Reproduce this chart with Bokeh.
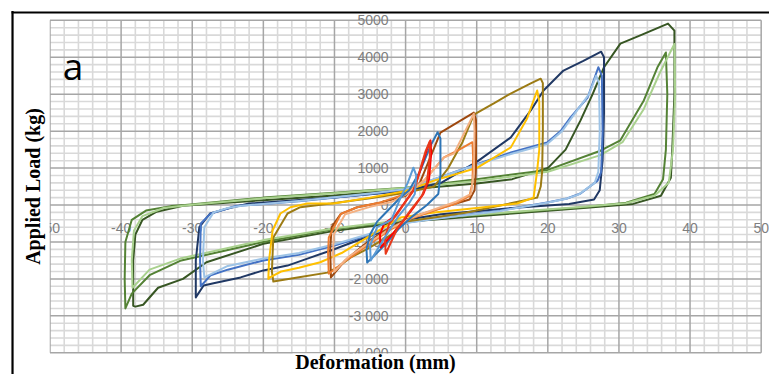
from bokeh.plotting import figure
from bokeh.models import Range1d
from bokeh.core.properties import value
from bokeh.embed import file_html
from bokeh.resources import INLINE

# ---------------- data ----------------
x_ticks = [-50, -40, -30, -20, -10, 0, 10, 20, 30, 40, 50]
x_tick_labels = ["-50", "-40", "-30", "-20", "-10", "0", "10", "20", "30", "40", "50"]
y_ticks = [5000, 4000, 3000, 2000, 1000, 0, -1000, -2000, -3000, -4000]
y_tick_labels = ["5000", "4000", "3000", "2000", "1000", "0", "-1 000", "-2 000", "-3 000", "-4 000"]

dg_x = [-31.3, -20, -10, 0, 10, 15, 20, 22.5, 24.6, 26.3, 27.9, 30.2, 33, 36.9, 37.8, 37.8, 37.5, 37.3, 35.9, 32, 25, 15, 0, -10, -20, -28, -31.3, -34.8, -36.9, -38.0, -38.3, -38.3, -38.0, -37.0, -35.0, -31.3]
dg_y = [-20, 130, 260, 420, 580, 700, 1000, 1500, 2290, 3000, 3730, 4370, 4590, 4910, 4720, 3000, 1500, 740, 250, 30, -80, -230, -450, -700, -1050, -1550, -2000, -2240, -2700, -2750, -2730, -1500, -800, -400, -180, -20]

gr_x = [-31, -20, -10, 0, 10, 20, 27.4, 30.2, 33.5, 35.4, 36.6, 36.8, 36.6, 36.2, 35, 31, 25, 15, 0, -10, -20, -31.7, -36, -38.5, -39.4, -39.5, -39.4, -38.5, -36.5, -33, -31]
gr_y = [0, 200, 330, 470, 700, 950, 1470, 1750, 2830, 3720, 4130, 3000, 1500, 700, 300, 60, -60, -200, -420, -650, -1000, -1510, -1900, -2400, -2800, -2000, -1000, -400, -150, -30, 0]

lg_x = [-30, -20, -10, 0, 10, 20, 27.4, 30.5, 33.5, 35.8, 37.8, 37.9, 37.6, 37.0, 35, 31, 25, 15, 0, -10, -20, -31.7, -36, -38.4, -38.5, -38.2, -37, -34, -30]
lg_y = [10, 180, 320, 460, 650, 900, 1350, 1700, 2600, 3600, 4360, 3000, 1500, 600, 250, 50, -50, -190, -400, -630, -950, -1450, -1750, -2240, -1500, -700, -300, -80, 10]

db_x = [-22, -10, 0, 5, 10.1, 14.8, 17.6, 19.4, 22.2, 25, 27.5, 27.9, 27.9, 27.7, 27.3, 26.5, 23, 15, 5, 0, -3.5, -6.8, -10.5, -13.8, -16.6, -20, -23.2, -27, -28.4, -29.5, -29.5, -29, -27.5, -25, -22]
db_y = [40, 200, 380, 600, 1180, 1830, 2560, 3100, 3640, 3900, 4150, 4000, 2500, 1200, 400, 150, 30, -80, -250, -400, -740, -960, -1230, -1450, -1640, -1770, -1960, -2120, -2180, -2500, -1500, -600, -230, -95, 40]

bl_x = [-24, -15, -5, 0, 8.6, 14.8, 19.9, 21.8, 23.2, 25.6, 27.1, 27.6, 27.7, 27.5, 27, 24.6, 22.7, 19.9, 13.3, 4, 0, -5, -10, -15, -20, -25, -27.4, -28.8, -28.9, -28.8, -27.4, -25, -24]
bl_y = [-30, 100, 300, 420, 1010, 1420, 1690, 2000, 2370, 2910, 3730, 3500, 2000, 900, 660, 310, 175, 70, -150, -370, -480, -800, -1100, -1350, -1500, -1750, -1900, -2200, -1500, -500, -230, -95, -30]

lb_x = [-23, -15, -5, 0, 8.6, 14.8, 19.9, 22, 23.5, 25.8, 26.8, 27.2, 27.3, 27.1, 26.6, 24.3, 22.4, 19.9, 13.3, 4, 0, -5, -10, -15, -20, -25, -28.3, -28.5, -28.3, -27, -25, -23]
lb_y = [-20, 110, 310, 430, 1000, 1380, 1650, 2000, 2400, 3000, 3500, 3300, 2000, 900, 600, 280, 160, 60, -160, -380, -490, -780, -1060, -1300, -1450, -1650, -1960, -1500, -600, -200, -80, -20]

ol_x = [-10.5, -5, 0, 4, 6, 8, 9.6, 12.4, 14.7, 17.6, 19, 19.3, 19.3, 19.2, 19, 18.5, 13.3, 8.6, 4, -0.7, -1.7, -5.3, -7.7, -9.6, -11, -15.2, -18.6, -18.8, -18.6, -16.6, -14.8, -10.5]
ol_y = [40, 180, 330, 500, 1000, 1700, 2450, 2750, 3010, 3290, 3420, 3300, 2000, 900, 500, 200, -15, -200, -340, -470, -770, -1180, -1420, -1690, -1830, -1960, -2070, -1800, -880, -230, -60, 40]

go_x = [-10.1, -5, 0, 4, 10.1, 14.8, 17.1, 18.5, 18.8, 18.8, 18.5, 18, 15.7, 11, 4, -0.7, -3, -6, -9, -12, -15, -17.5, -19, -19.3, -19.2, -18.7, -17.6, -16.2, -13.8, -10.1]
go_y = [40, 200, 380, 660, 1010, 1560, 2350, 3100, 2800, 1500, 930, 200, 40, -60, -200, -340, -600, -950, -1300, -1550, -1700, -1800, -1950, -2000, -1500, -690, -230, -60, 40, 40]

br_x = [-6.8, -3.5, 0, 2, 3.5, 4.9, 9.6, 9.9, 9.9, 9.7, 9, 6, 3, 0, -3, -6, -8.5, -10.5, -10.6, -10.4, -9.1, -6.8]
br_y = [-60, 70, 250, 600, 1300, 1960, 2500, 2300, 1000, 400, 150, -20, -200, -400, -700, -1100, -1500, -1960, -1200, -600, -240, -60]

or_x = [-6.8, -3.5, 0, 2.6, 5.4, 7.3, 9.4, 9.5, 9.4, 9.0, 7, 4, 1, -2, -5, -8, -10.8, -10.9, -10.8, -9.1, -6.8]
or_y = [-60, 70, 300, 660, 1290, 1470, 1700, 1300, 600, 250, 30, -150, -350, -650, -1050, -1450, -1860, -1300, -880, -240, -60]

lo_x = [-5, -2, 0, 2.6, 5.4, 6.8, 9.6, 9.7, 9.6, 9.2, 7, 4, 1, -2, -5, -8, -10, -10.2, -10.1, -8.5, -5]
lo_y = [-50, 80, 280, 660, 1290, 1390, 2470, 2000, 900, 300, 80, -120, -330, -620, -1000, -1400, -1800, -1300, -800, -250, -50]

mb_x = [-3, -1, 0.5, 2, 3.5, 4.5, 4.9, 4.9, 4.6, 3, 1, -1, -3, -5.4, -5.5, -5, -4, -3]
mb_y = [-250, 150, 400, 900, 1600, 1970, 1800, 800, 300, 0, -300, -650, -1100, -1560, -1200, -800, -450, -250]

rd_x = [-1.5, 0, 1.1, 2, 3, 3.5, 3.6, 3.3, 2.5, 1, -1, -3.5, -3.6, -3, -1.5]
rd_y = [-300, 100, 390, 900, 1500, 1750, 1400, 700, 300, -100, -600, -1150, -800, -500, -300]

rd2_x = [-1.2, 0.2, 1.3, 2.1, 2.8, 3.4, 3.4, 3.0, 2.3, 0.8, -1.2, -2.8, -2.9, -2.3, -1.2]
rd2_y = [-250, 150, 450, 1000, 1450, 1720, 1300, 600, 250, -120, -650, -1320, -900, -500, -250]

sb_x = [-2, -0.7, 0.3, 1.1, 1.5, 1.3, 0.5, -1, -3, -4.9, -5, -4, -2]
sb_y = [-400, 200, 600, 1010, 800, 300, 50, -300, -900, -1500, -1100, -600, -400]

loops = [
    (dg_x, dg_y, "#375623"),
    (gr_x, gr_y, "#548235"),
    (lg_x, lg_y, "#A9D18E"),
    (db_x, db_y, "#203864"),
    (bl_x, bl_y, "#4472C4"),
    (lb_x, lb_y, "#9DC3E6"),
    (ol_x, ol_y, "#9C7B14"),
    (go_x, go_y, "#FFC000"),
    (br_x, br_y, "#9E480E"),
    (or_x, or_y, "#ED7D31"),
    (lo_x, lo_y, "#F4B183"),
    (mb_x, mb_y, "#2E75B6"),
    (rd_x, rd_y, "#FF0000"),
    (rd2_x, rd2_y, "#E83A1C"),
    (sb_x, sb_y, "#5B9BD5"),
]

# ---------------- figure ----------------
p = figure(width=769, height=374, output_backend="svg", toolbar_location=None,
           x_axis_location=None, y_axis_location=None,
           x_range=Range1d(-56.96, 51.17), y_range=Range1d(-4588, 5536),
           min_border=0, background_fill_color="white")
p.outline_line_color = None
p.xgrid.visible = False
p.ygrid.visible = False

# minor grid
mx = [v for v in range(-50, 51, 2) if v % 10 != 0]
p.segment(x0=mx, y0=[-4000] * len(mx), x1=mx, y1=[5000] * len(mx), line_color="#d9d9d9", line_width=1.6)
my = [v for v in range(-4000, 5001, 200) if v % 1000 != 0]
p.segment(x0=[-50] * len(my), y0=my, x1=[50] * len(my), y1=my, line_color="#d9d9d9", line_width=1.6)
# major grid
Mx = list(range(-50, 51, 10))
p.segment(x0=Mx, y0=[-4000] * len(Mx), x1=Mx, y1=[5000] * len(Mx), line_color="#a6a6a6", line_width=1.5)
My = list(range(-4000, 5001, 1000))
p.segment(x0=[-50] * len(My), y0=My, x1=[50] * len(My), y1=My, line_color="#a6a6a6", line_width=1.5)

# tick labels
p.text(x=x_ticks, y=[-609] * len(x_ticks), text=x_tick_labels, text_align="center",
       text_baseline="middle", text_font=value("Liberation Sans"), text_font_size="14px",
       text_color="#7f7f7f")
p.text(x=[-2.4] * len(y_ticks), y=y_ticks, text=y_tick_labels, text_align="right",
       text_baseline="middle", text_font=value("Liberation Sans"), text_font_size="14px",
       text_color="#7f7f7f")

# curves
for xs, ys, c in loops:
    p.line(xs, ys, line_color=c, line_width=2, line_join="round")

# white margin strip left of grid (hides clipped label part)
p.quad(left=[-56.96], right=[-50.05], bottom=[-4588], top=[5536], fill_color="white", line_color=None)
# white box behind x title
p.quad(left=[-15.9], right=[7.7], bottom=[-4588], top=[-4020], fill_color="white", line_color=None)

# titles
p.text(x=[-4.23], y=[-4240], text=["Deformation (mm)"], text_align="center", text_baseline="middle",
       text_font=value("Liberation Serif"), text_font_style="bold", text_font_size="20px", text_color="black")
p.text(x=[-52.39], y=[501], text=["Applied Load (kg)"], text_align="center", text_baseline="middle",
       angle=1.5708, text_font=value("Liberation Serif"), text_font_style="bold", text_font_size="20px",
       text_color="black")
p.text(x=[-46.77], y=[3776], text=["a"], text_align="center", text_baseline="alphabetic",
       text_font=value("Open Sans"), text_font_size="37px", text_color="black")

# black frame (left and top)
p.segment(x0=[-55.27, -55.4], y0=[5250, 5211], x1=[-55.27, 51.17], y1=[-4588, 5211],
          line_color="black", line_width=2.2)

open("out.html", "w").write(file_html(p, INLINE))
